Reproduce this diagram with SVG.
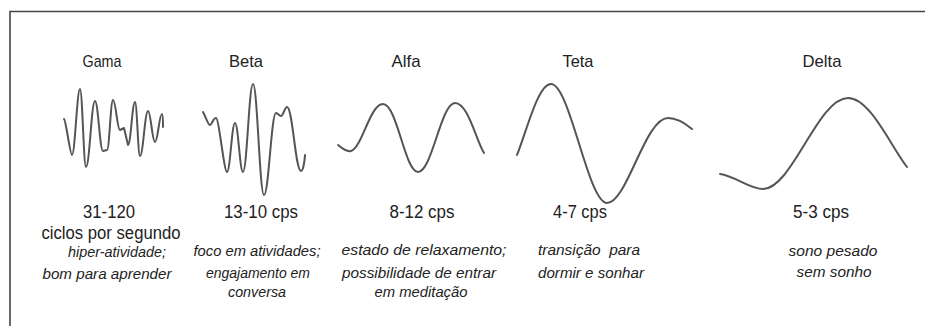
<svg xmlns="http://www.w3.org/2000/svg" width="925" height="326" viewBox="0 0 925 326">
<style>
.bg{fill:#ffffff}
.frame{stroke:#444;stroke-width:1.6;fill:none}
.wave{stroke:#555;stroke-width:2;fill:none;stroke-linejoin:round;stroke-linecap:round}
.title{font-family:"Liberation Sans",Arial,sans-serif;font-size:17px;fill:#222;text-anchor:middle}
.num{font-family:"Liberation Sans",Arial,sans-serif;font-size:18px;fill:#222;text-anchor:middle}
.desc{font-family:"Liberation Sans",Arial,sans-serif;font-size:15px;font-style:italic;fill:#222;text-anchor:middle;white-space:pre}
</style>
<rect class="bg" x="0" y="0" width="925" height="326"/>
<g id="frame">
<path class="frame" d="M10,326 V11.5 H925"/>
</g>
<g id="gama">
<text class="title" x="102" y="67" textLength="39" lengthAdjust="spacingAndGlyphs">Gama</text>
<path class="wave" d="M64,119 C66,120 70,155 72,155 C75,155 77,89 80,89 C82.4,89 83.6,167 86,167 C89.6,167 91.4,101 95,101 C98.2,101 99.8,151 103,151 L107,150 C109.4,150 110.6,100 113,100 C115.8,100 117.2,130 120,130 L124,128 L128,145 C130.8,145 132.2,102 135,102 C137,102 138,156 140,156 C143.2,156 144.8,111 148,111 C150.8,111 152.2,142 155,142 C157.8,142 159.2,114 162,114 C162.8,114 163,120 163,127"/>
<text class="num" x="109" y="218" textLength="52" lengthAdjust="spacingAndGlyphs">31-120</text>
<text class="num" x="111" y="239" textLength="139" lengthAdjust="spacingAndGlyphs">ciclos por segundo</text>
<text class="desc" x="117" y="257" textLength="98" lengthAdjust="spacingAndGlyphs">hiper-atividade;</text>
<text class="desc" x="107" y="279" textLength="129" lengthAdjust="spacingAndGlyphs">bom para aprender</text>
</g>
<g id="beta">
<text class="title" x="246" y="67" textLength="34" lengthAdjust="spacingAndGlyphs">Beta</text>
<path class="wave" d="M203,112 C206,117 208,125 210,125 C212,125 213,118 216,118 C219,118 224,172 227,172 C230.2,172 231.8,123 235,123 C238.2,123 239.8,172 243,172 C247,172 249,84 253,84 C257.4,84 259.6,195 264,195 C268.8,195 271.2,113 276,113 C278,113 279,116 281,116 C283,116 285,107 287,107 C292.6,107 295.4,171 301,171 C303,171 304.5,162 305,155"/>
<text class="num" x="261" y="218" textLength="74" lengthAdjust="spacingAndGlyphs">13-10 cps</text>
<text class="desc" x="257" y="256" textLength="127" lengthAdjust="spacingAndGlyphs">foco em atividades;</text>
<text class="desc" x="258" y="278" textLength="104" lengthAdjust="spacingAndGlyphs">engajamento em</text>
<text class="desc" x="257" y="297" textLength="58" lengthAdjust="spacingAndGlyphs">conversa</text>
</g>
<g id="alfa">
<text class="title" x="406" y="67" textLength="29" lengthAdjust="spacingAndGlyphs">Alfa</text>
<path class="wave" d="M338,145 C343,149 347,152 351,151 C362,148 370,104 383,104 C397,104 405,172 418,172 C432,172 441,103 455,103 C468,103 476,140 484,153"/>
<text class="num" x="422" y="218" textLength="65" lengthAdjust="spacingAndGlyphs">8-12 cps</text>
<text class="desc" x="424" y="255" textLength="165" lengthAdjust="spacingAndGlyphs">estado de relaxamento;</text>
<text class="desc" x="419" y="278" textLength="154" lengthAdjust="spacingAndGlyphs">possibilidade de entrar</text>
<text class="desc" x="421" y="297" textLength="93" lengthAdjust="spacingAndGlyphs">em meditação</text>
</g>
<g id="teta">
<text class="title" x="578" y="67" textLength="31" lengthAdjust="spacingAndGlyphs">Teta</text>
<path class="wave" d="M517,155 C527,130 538,84 551,84 C570,84 588,203 607,203 C627,203 645,118 668,118 C678,118 686,124 692,129"/>
<text class="num" x="580" y="218" textLength="54" lengthAdjust="spacingAndGlyphs">4-7 cps</text>
<text class="desc" x="589" y="255" textLength="102" lengthAdjust="spacingAndGlyphs">transição  para</text>
<text class="desc" x="591" y="278" textLength="106" lengthAdjust="spacingAndGlyphs">dormir e sonhar</text>
</g>
<g id="delta">
<text class="title" x="822" y="67" textLength="39" lengthAdjust="spacingAndGlyphs">Delta</text>
<path class="wave" d="M720,174 C735,176 750,189 763,189 C792,189 818,98 848,98 C870,98 890,145 907,167"/>
<text class="num" x="821" y="218" textLength="56" lengthAdjust="spacingAndGlyphs">5-3 cps</text>
<text class="desc" x="833" y="256" textLength="89" lengthAdjust="spacingAndGlyphs">sono pesado</text>
<text class="desc" x="834" y="277" textLength="75" lengthAdjust="spacingAndGlyphs">sem sonho</text>
</g>
</svg>
